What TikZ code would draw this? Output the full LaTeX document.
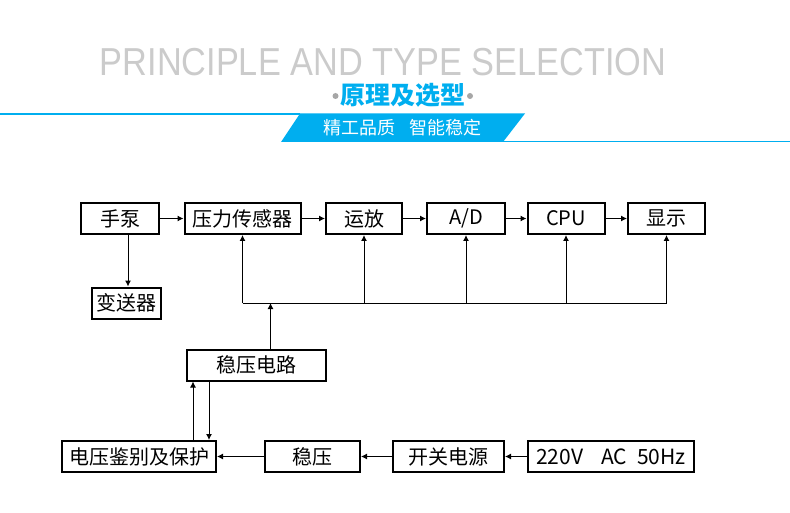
\documentclass[tikz,border=0pt]{standalone}
\usepackage{fontspec}
\setmainfont{Noto Sans CJK SC}
\newfontfamily\titlefont{Liberation Sans}
\usetikzlibrary{arrows.meta}
\definecolor{cblue}{HTML}{00AEEF}
\definecolor{ctitle}{HTML}{CBCBCB}
\begin{document}
\begin{tikzpicture}[x=1pt,y=-1pt,
	>={Latex[length=6pt,width=6pt]},
	blockbox/.style={draw, line width=2pt, minimum height=31pt, inner sep=0pt, font=\fontsize{20}{20}\selectfont},
	link/.style={line width=1pt}]
	\useasboundingbox (0,0) rectangle (790,513);
	% heading
	\node (title) at (383,62) [text=ctitle, xscale=0.88, font=\titlefont\fontsize{39}{39}\selectfont] {PRINCIPLE AND TYPE SELECTION};
	\node (subtitle) at (403,95) [font=\bfseries\fontsize{25}{25}\selectfont, text=cblue] {原理及选型};
	\fill[gray!70] (335.5,96) circle [radius=3];
	\fill[gray!70] (470,96) circle [radius=3];
	\draw[cblue, line width=1.5pt] (0,114) -- (300,114);
	\draw[cblue, line width=1.5pt] (503,141.5) -- (790,141.5);
	\fill[cblue] (300,113.5) -- (525,113.5) -- (503,142) -- (281,142) -- cycle;
	\node (slogan) at (402.5,128) [text=white, font=\fontsize{18}{18}\selectfont] {精工品质\hspace{14pt}智能稳定};
	% top row
	\node[blockbox, minimum width=78pt] (hand) at (120,218.5) {手泵};
	\node[blockbox, minimum width=116pt] (sensor) at (242.5,218.5) {压力传感器};
	\node[blockbox, minimum width=76pt] (amp) at (364,218.5) {运放};
	\node[blockbox, minimum width=78pt] (ad) at (466,218.5) {A/D};
	\node[blockbox, minimum width=77pt] (cpu) at (566,218.5) {CPU};
	\node[blockbox, minimum width=77pt] (disp) at (666.5,218.5) {显示};
	\node[blockbox, minimum width=69pt] (trans) at (126,303) {变送器};
	% power part
	\node[blockbox, minimum width=139pt] (reg) at (256.5,365) {稳压电路};
	\node[blockbox, minimum width=154pt] (prot) at (139,456.5) {电压鉴别及保护};
	\node[blockbox, minimum width=95pt] (stab) at (312.5,456.5) {稳压};
	\node[blockbox, minimum width=111pt] (psu) at (448.5,456.5) {开关电源};
	\node[blockbox, minimum width=166pt, font=\fontsize{21}{21}\selectfont] (mains) at (611,456.5) {220V\hspace{18pt}AC\hspace{10pt}50Hz};
	\coordinate (busL) at (242.5,303);
	\coordinate (busR) at (666.5,303);
	% connectors
	\draw[link,->] (hand) -- (sensor);
	\draw[link,->] (sensor) -- (amp);
	\draw[link,->] (amp) -- (ad);
	\draw[link,->] (ad) -- (cpu);
	\draw[link,->] (cpu) -- (disp);
	\draw[link,->] ([xshift=8]hand.south) -- ([xshift=8]hand.south |- trans.north);
	\draw[link] (busL) -- (busR);
	\foreach \n in {sensor,amp,ad,cpu,disp}
		\draw[link,->] (\n.south |- busL) -- (\n.south);
	\draw[link,->] ([xshift=14]reg.north) -- ([xshift=14]reg.north |- busL);
	\draw[link,->] (prot.north -| 193,0) -- (reg.south -| 193,0);
	\draw[link,->] (reg.south -| 209,0) -- (prot.north -| 209,0);
	\draw[link,->] (stab) -- (prot);
	\draw[link,->] (psu) -- (stab);
	\draw[link,->] (mains) -- (psu);
\end{tikzpicture}
\end{document}
